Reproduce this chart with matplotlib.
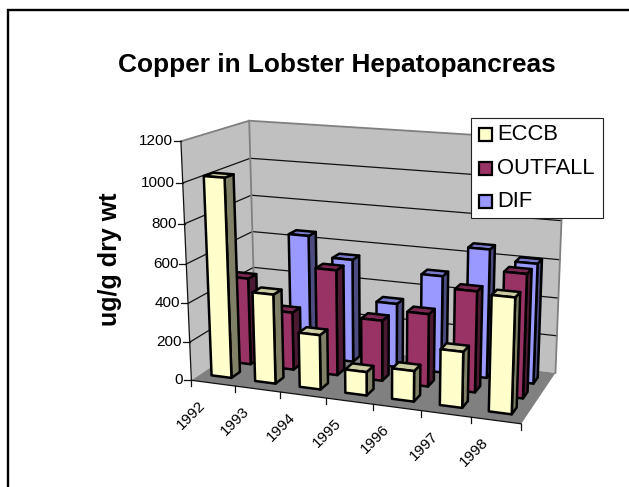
import numpy as np
import matplotlib
matplotlib.use('Agg')
import matplotlib.pyplot as plt
from matplotlib.patches import Polygon, Rectangle

years = ['1992', '1993', '1994', '1995', '1996', '1997', '1998']
series = ['ECCB', 'OUTFALL', 'DIF']
eccb = [1020, 460, 280, 120, 155, 280, 570]
outfall = [460, 305, 550, 315, 375, 515, 625]
dif = [300, 655, 550, 340, 510, 670, 620]
y_ticks = [0, 200, 400, 600, 800, 1000, 1200]

face_cols = ['#ffffcc', '#993366', '#9999ff']
side_cols = ['#808066', '#4c1933', '#4c4c80']
top_cols = ['#cccca3', '#7a2851', '#7a7acc']

W, H = 629, 487
ymax = 1200.0

# camera fitted to points: (cat, depth, value) -> pixel
cal = [(0, 0, 0, 191.5, 380), (0, 0, 1200, 181.5, 141.5), (0, 1, 0, 256, 338),
       (0, 1, 1200, 248, 120), (7, 0, 0, 522, 424), (7, 1, 0, 555, 373),
       (7, 1, 1200, 565, 142), (1, 0, 0, 235, 386), (2, 0, 0, 280, 392),
       (3, 0, 0, 326, 398), (4, 0, 0, 372, 404), (5, 0, 0, 421, 411),
       (6, 0, 0, 471, 417), (0, 1, 600, 253, 231.7), (7, 1, 600, 560, 258)]
rows = []
for c, d, v, px, py in cal:
    p = [c, d, v / ymax, 1]
    rows.append(p + [0, 0, 0, 0] + [-px * q for q in p])
    rows.append([0, 0, 0, 0] + p + [-py * q for q in p])
cam = np.linalg.svd(np.array(rows))[2][-1].reshape(3, 4)


def proj(c, d, v):
    q = cam @ np.array([c, d, v / ymax, 1.0])
    return q[0] / q[2], q[1] / q[2]


fig = plt.figure(figsize=(W / 100, H / 100), dpi=100)
ax = fig.add_axes([0, 0, 1, 1])
ax.set_xlim(0, W)
ax.set_ylim(H, 0)
ax.axis('off')
plt.rcParams['font.family'] = ['Liberation Sans', 'DejaVu Sans']

# frame, only top and left are in the picture
ax.plot([8, 8, W], [H, 10, 10], color='black', lw=1.7, solid_joinstyle='miter')


def poly(pts, fc, ec='none', lw=0, z=1):
    ax.add_patch(Polygon(pts, closed=True, fc=fc, ec=ec, lw=lw, zorder=z, joinstyle='round'))


nc = len(years)
# walls and floor
poly([proj(0, 0, 0), proj(0, 1, 0), proj(0, 1, ymax), proj(0, 0, ymax)], '#c0c0c0')
poly([proj(0, 1, 0), proj(nc, 1, 0), proj(nc, 1, ymax), proj(0, 1, ymax)], '#c0c0c0')
poly([proj(0, 0, 0), proj(nc, 0, 0), proj(nc, 1, 0), proj(0, 1, 0)], '#808080')

for t in y_ticks[1:-1]:
    xs, ys = zip(proj(0, 0, t), proj(0, 1, t), proj(nc, 1, t))
    ax.plot(xs, ys, color='#111111', lw=0.9, zorder=2)

# grey wall edges
xs, ys = zip(proj(0, 0, ymax), proj(0, 1, ymax), proj(nc, 1, ymax), proj(nc, 1, 0))
ax.plot(xs, ys, color='#808080', lw=1.3, zorder=2)
xs, ys = zip(proj(0, 1, ymax), proj(0, 1, 0))
ax.plot(xs, ys, color='#808080', lw=1.3, zorder=2)

# axis lines and ticks
xs, ys = zip(proj(0, 0, ymax), proj(0, 0, 0), proj(nc, 0, 0))
ax.plot(xs, ys, color='#111111', lw=0.9, zorder=3)
for t in y_ticks:
    x, y = proj(0, 0, t)
    ax.plot([x - 7, x], [y, y], color='#111111', lw=0.9, zorder=3)
    ax.text(x - 8, y, str(t), ha='right', va='center', fontsize=11, color='black')
for i in range(nc + 1):
    x, y = proj(i, 0, 0)
    ax.plot([x, x], [y, y + 6], color='#111111', lw=0.9, zorder=3)
for i, yr in enumerate(years):
    x, y = proj(i + 0.5, 0, 0)
    ax.text(x - 22, y + 32, yr, rotation=45, ha='center', va='center', fontsize=11,
            rotation_mode='anchor')

# bars, back row first, left to right
bw = 0.23
bd = 0.065
centres = [0.2, 0.5, 0.8]
vals = [eccb, outfall, dif]
z = 5
for s in [2, 1, 0]:
    d0, d1 = centres[s] - bd, centres[s] + bd
    for i in range(nc):
        c0, c1 = i + 0.48 - bw, i + 0.48 + bw
        v = vals[s][i]
        kw = dict(ec='black', lw=1.8, z=z)
        poly([proj(c1, d0, 0), proj(c1, d1, 0), proj(c1, d1, v), proj(c1, d0, v)], side_cols[s], **kw)
        poly([proj(c0, d0, v), proj(c1, d0, v), proj(c1, d1, v), proj(c0, d1, v)], top_cols[s], **kw)
        poly([proj(c0, d0, 0), proj(c1, d0, 0), proj(c1, d0, v), proj(c0, d0, v)], face_cols[s], **kw)
        z += 1

# legend
ax.add_patch(Rectangle((471, 117.5), 132, 100.5, fc='white', ec='#222222', lw=0.8, zorder=100))
for s, name in enumerate(series):
    y = 134.5 + s * 33.5
    ax.add_patch(Rectangle((478.5, y - 6.5), 13.5, 13, fc=face_cols[s], ec='black', lw=1.6, zorder=101))
    ax.text(497.5, y, name, ha='left', va='center', fontsize=15.8, zorder=101)

ax.text(337, 65, 'Copper in Lobster Hepatopancreas', ha='center', va='center',
        fontsize=18.9, fontweight='bold')
ax.text(110, 259, 'ug/g dry wt', rotation=90, ha='center', va='center',
        fontsize=18, fontweight='bold')

fig.savefig('out.png', dpi=100)
